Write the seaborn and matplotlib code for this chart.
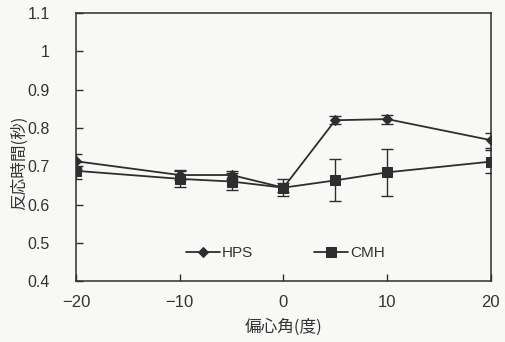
import matplotlib
matplotlib.use("Agg")
import matplotlib.pyplot as plt
import seaborn as sns
import pandas as pd
from matplotlib.ticker import FuncFormatter

sns.set_theme(style="white")
plt.rcParams['font.family'] = ['Liberation Sans', 'Noto Sans CJK JP']

angles = [-20, -10, -5, 0, 5, 10, 20]
hps = [0.713, 0.677, 0.677, 0.644, 0.820, 0.823, 0.768]
hps_err = [0.020, 0.013, 0.011, 0.012, 0.010, 0.012, 0.020]
cmh = [0.688, 0.667, 0.660, 0.644, 0.663, 0.684, 0.712]
cmh_err = [0.022, 0.020, 0.022, 0.023, 0.055, 0.062, 0.030]
yticks = [0.4, 0.5, 0.6, 0.7, 0.8, 0.9, 1.0, 1.1]
xticks = [-20, -10, 0, 10, 20]

df = pd.DataFrame({
    "angle": angles * 2,
    "rt": hps + cmh,
    "series": ["HPS"] * len(angles) + ["CMH"] * len(angles),
})

fig = plt.figure(figsize=(5.05, 3.42), dpi=100)
fig.patch.set_facecolor('#f8f8f6')
ax = fig.add_axes([0.1505, 0.178, 0.8215, 0.784])
ax.set_facecolor('#f8f8f6')

col = '#2e2e2e'
ax.errorbar(angles, hps, yerr=hps_err, fmt='none', ecolor=col, elinewidth=1.0, capsize=4, capthick=1.0)
ax.errorbar(angles, cmh, yerr=cmh_err, fmt='none', ecolor=col, elinewidth=1.0, capsize=4, capthick=1.0)

sns.lineplot(data=df, x="angle", y="rt", hue="series", style="series",
             markers={"HPS": "D", "CMH": "s"}, dashes=False,
             palette={"HPS": col, "CMH": col}, markersize=6,
             markeredgecolor=col, linewidth=1.3, ax=ax)
for line in ax.lines:
    if line.get_marker() == 'D':
        line.set_markersize(5)
    elif line.get_marker() == 's':
        line.set_markersize(7)

ax.set_xlim(-20, 20)
ax.set_ylim(0.4, 1.1)
ax.set_xticks(xticks)
ax.set_yticks(yticks)
ax.yaxis.set_major_formatter(FuncFormatter(lambda v, p: f"{v:g}"))
ax.xaxis.set_major_formatter(FuncFormatter(lambda v, p: f"{v:g}".replace('-', '\u2212')))
ax.tick_params(axis='both', direction='in', length=5, width=1, colors=col,
               labelsize=12, labelcolor='#333333', bottom=True, left=True)
ax.tick_params(axis='x', pad=10)
ax.tick_params(axis='y', pad=19)
for lab in ax.get_yticklabels():
    lab.set_family(['Liberation Sans Narrow', 'Liberation Sans'])
    lab.set_fontsize(11.5)
for s in ax.spines.values():
    s.set_color(col)
    s.set_linewidth(1.1)
    s.set_visible(True)

ax.set_xlabel("偏心角(度)", fontsize=12, color='#333333', family=['Noto Sans CJK JP'])
ax.set_ylabel("反応時間(秒)", fontsize=12, color='#333333', family=['Noto Sans CJK JP'])
ax.xaxis.set_label_coords(0.5, -0.14)
ax.yaxis.set_label_coords(-0.115, 0.44)

leg = ax.legend(loc='center', bbox_to_anchor=(0.505, 0.104), ncol=2, frameon=False,
                fontsize=11, handlelength=2.2, columnspacing=4.0, handletextpad=0.15)
for t in leg.get_texts():
    t.set_color('#333333')

fig.savefig("out.png", dpi=100, facecolor=fig.get_facecolor())
